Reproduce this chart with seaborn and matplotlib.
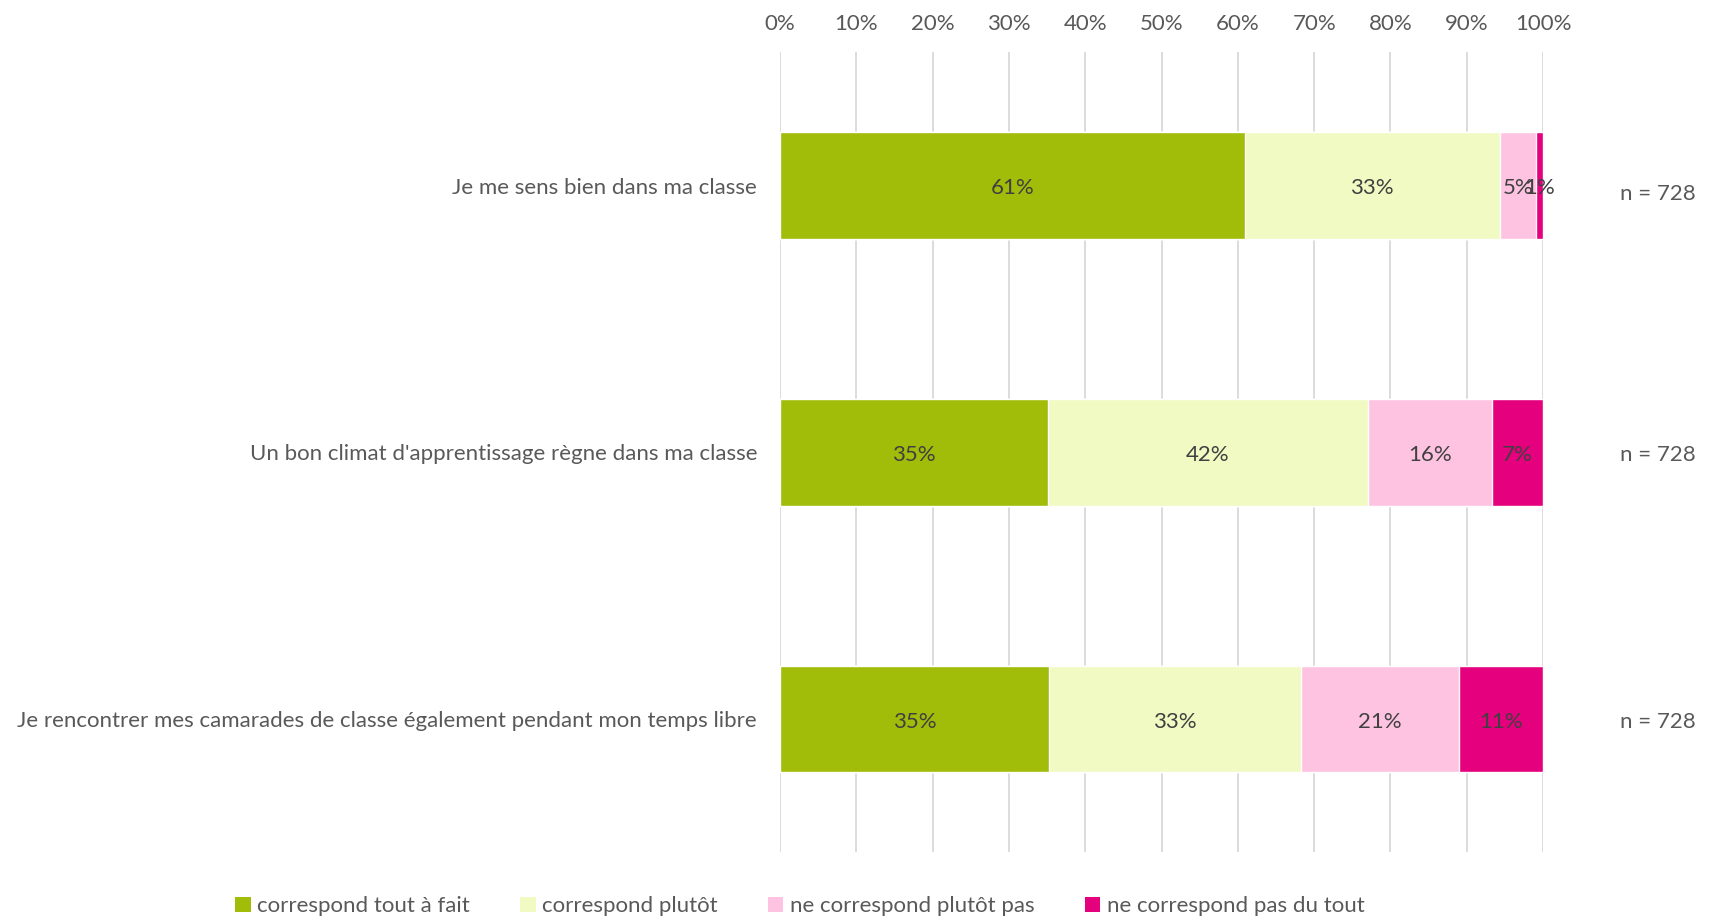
import matplotlib.pyplot as plt
import seaborn as sns
import numpy as np
from matplotlib.patches import Patch

questions = [
    "Je me sens bien dans ma classe",
    "Un bon climat d'apprentissage règne dans ma classe",
    "Je rencontrer mes camarades de classe également pendant mon temps libre",
]
categories = [
    "correspond tout à fait",
    "correspond plutôt",
    "ne correspond plutôt pas",
    "ne correspond pas du tout",
]
tout_a_fait = [60.9, 35.1, 35.3]
plutot = [33.4, 42.0, 33.0]
plutot_pas = [4.8, 16.2, 20.7]
pas_du_tout = [0.9, 6.7, 11.0]
n_labels = ["n = 728", "n = 728", "n = 728"]

colors = ["#A2BC0A", "#F2FAC4", "#FFC3E2", "#E5007E"]
grey = "#595959"
fs = 16

sns.set_theme(style="white")
plt.rcParams["font.family"] = ["Lato", "DejaVu Sans"]

series = np.array([tout_a_fait, plutot, plutot_pas, pas_du_tout])
cum = np.cumsum(series, axis=0)

fig = plt.figure(figsize=(17.09, 9.19), dpi=100)
ax = fig.add_axes([0.4564, 0.0726, 0.4465, 0.8705])

# stacked look: draw cumulative totals from the largest down
for i in range(len(categories) - 1, -1, -1):
    sns.barplot(x=cum[i], y=questions, orient="h", color=colors[i],
                saturation=1, width=0.4, ax=ax, zorder=2)

# segment labels
for i in range(len(categories)):
    for j in range(len(questions)):
        left = cum[i][j] - series[i][j]
        ax.text(left + series[i][j] / 2, j + 0.01, f"{series[i][j]:.0f}%",
                ha="center", va="center", fontsize=fs, color="#404040", zorder=3)

for j, lab in enumerate(n_labels):
    ax.text(115, j + (0.03 if j == 0 else 0.01), lab, ha="center", va="center",
            fontsize=fs, color=grey, clip_on=False)

ax.set_xlim(0, 100)
ax.set_ylim(2.5, -0.5)
ax.set_xticks(np.arange(0, 101, 10))
ax.set_xticklabels([f"{v}%" for v in range(0, 101, 10)])
ax.xaxis.tick_top()
ax.tick_params(axis="x", length=0, pad=13, labelsize=fs, labelcolor=grey)
ax.tick_params(axis="y", length=0, pad=16.5, labelsize=fs, labelcolor=grey)
ax.set_xlabel("")
ax.set_ylabel("")
ax.grid(axis="x", color="#D9D9D9", linewidth=1.3, zorder=0)
ax.set_axisbelow(True)
for s in ax.spines.values():
    s.set_visible(False)

handles = [Patch(facecolor=c, edgecolor="none") for c in colors]
fig.legend(handles, categories, loc="lower center", bbox_to_anchor=(0.468, -0.019),
           ncol=4, frameon=False, fontsize=fs, labelcolor=grey,
           handlelength=0.7, handleheight=0.7, handletextpad=0.3, columnspacing=2.25)

fig.savefig("out.png", dpi=100)
